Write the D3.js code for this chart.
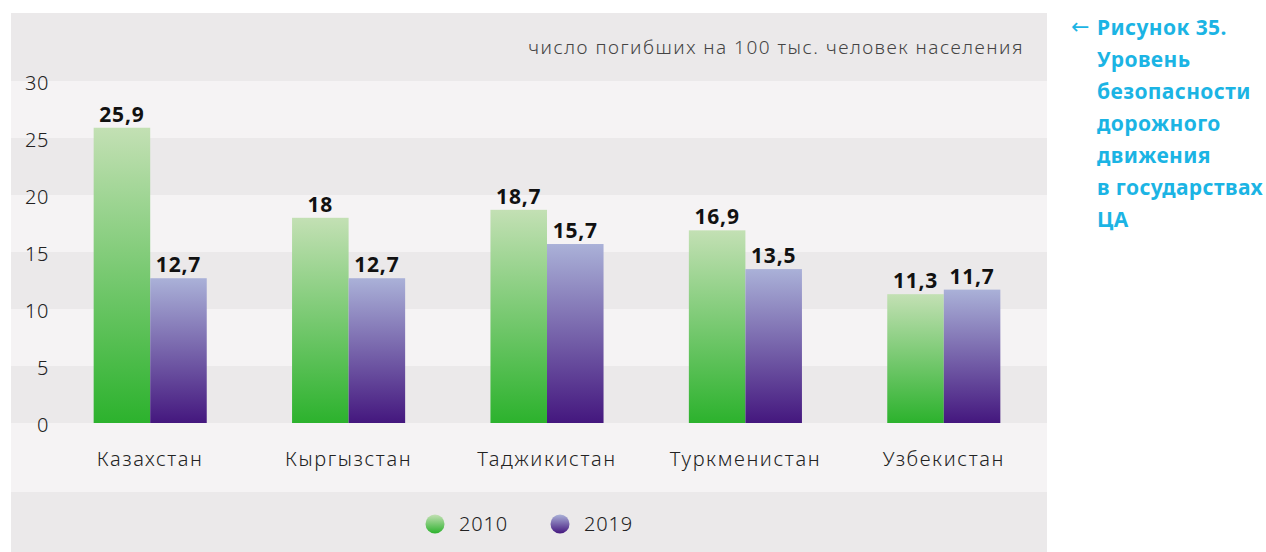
<!DOCTYPE html>
<html>
<head>
<meta charset="utf-8">
<script src="https://cdn.jsdelivr.net/npm/d3@7"></script>
<style>
  html, body { margin: 0; padding: 0; background: #ffffff; }
  svg { display: block; font-family: "Noto Sans", "Open Sans", sans-serif; }
</style>
</head>
<body>
<svg id="chart" width="1266" height="552"></svg>
<script>
// Road traffic deaths per 100k population, Central Asian states
const countries = ["Казахстан", "Кыргызстан", "Таджикистан", "Туркменистан", "Узбекистан"];
const years = ["2010", "2019"];
const values2010 = [25.9, 18, 18.7, 16.9, 11.3];
const values2019 = [12.7, 12.7, 15.7, 13.5, 11.7];
const yTicks = [0, 5, 10, 15, 20, 25, 30];
const unitLabel = "число погибших на 100 тыс. человек населения";
const titleLines = ["Рисунок 35.", "Уровень", "безопасности", "дорожного", "движения", "в государствах", "ЦА"];

const svg = d3.select("#chart");

const panel = { x0: 11, x1: 1047, top: 13, bottom: 552 };
const y = d3.scaleLinear().domain([0, 30]).range([423, 81]);
const x = d3.scaleBand().domain(countries).range([51, 1043]).paddingInner(0.43).paddingOuter(0.215);
const xs = d3.scaleBand().domain(years).range([0, x.bandwidth()]);

const dark = "#ebe9ea", light = "#f5f3f4";
const lightFont = "300";

// Gradients for the two series
const defs = svg.append("defs");
const grads = [
  { id: "g2010", top: "#c3e0b4", bottom: "#2cb22d" },
  { id: "g2019", top: "#aab1d8", bottom: "#44177e" }
];
grads.forEach(g => {
  const lg = defs.append("linearGradient").attr("id", g.id)
    .attr("x1", 0).attr("y1", 0).attr("x2", 0).attr("y2", 1);
  lg.append("stop").attr("offset", "0%").attr("stop-color", g.top);
  lg.append("stop").attr("offset", "100%").attr("stop-color", g.bottom);
});

// Panel background with alternating bands
svg.append("rect").attr("x", panel.x0).attr("y", panel.top)
  .attr("width", panel.x1 - panel.x0).attr("height", panel.bottom - panel.top).attr("fill", dark);
svg.append("rect").attr("x", panel.x0).attr("y", y(0))
  .attr("width", panel.x1 - panel.x0).attr("height", 492 - y(0)).attr("fill", light);
for (let i = 0; i < yTicks.length - 1; i++) {
  const lo = yTicks[i], hi = yTicks[i + 1];
  svg.append("rect").attr("x", panel.x0).attr("y", y(hi))
    .attr("width", panel.x1 - panel.x0).attr("height", y(lo) - y(hi))
    .attr("fill", i % 2 === 0 ? dark : light);
}

// Unit label
svg.append("text").attr("x", 1024).attr("y", 54).attr("text-anchor", "end")
  .attr("font-size", 19).attr("font-weight", lightFont).attr("fill", "#444")
  .attr("letter-spacing", 1.5).text(unitLabel);

// Y axis
const yAxis = d3.axisLeft(y).tickValues(yTicks).tickSize(0).tickPadding(0);
const ya = svg.append("g").attr("transform", "translate(49,1)").call(yAxis);
ya.select(".domain").remove();
ya.selectAll("text").attr("font-size", 20).attr("fill", "#222").attr("font-family", "Noto Sans, sans-serif")
  .attr("font-weight", lightFont).attr("dy", "0.35em").attr("letter-spacing", 0.6);

// Bars
const series = [values2010, values2019];
const groups = svg.append("g").selectAll("g").data(countries).join("g")
  .attr("transform", d => `translate(${x(d)},0)`);
years.forEach((yr, si) => {
  groups.append("rect")
    .attr("x", xs(yr)).attr("width", xs.bandwidth())
    .attr("y", (d, i) => y(series[si][i]))
    .attr("height", (d, i) => y(0) - y(series[si][i]))
    .attr("fill", `url(#g${yr})`);
  groups.append("text")
    .attr("x", xs(yr) + xs.bandwidth() / 2)
    .attr("y", (d, i) => y(series[si][i]) - 6)
    .attr("text-anchor", "middle").attr("font-size", 21).attr("font-weight", 700).attr("fill", "#111")
    .attr("letter-spacing", 0.8)
    .text((d, i) => String(series[si][i]).replace(".", ","));
});

// X axis labels
const xAxis = d3.axisBottom(x).tickSize(0).tickPadding(0);
const xa = svg.append("g").attr("transform", `translate(0,${y(0)})`).call(xAxis);
xa.select(".domain").remove();
xa.selectAll("text").attr("font-size", 20).attr("fill", "#222").attr("font-family", "Noto Sans, sans-serif")
  .attr("font-weight", lightFont).attr("dy", 0).attr("y", 43).attr("letter-spacing", 1.6);

// Legend
const legend = svg.append("g");
const legendX = [435, 560];
years.forEach((yr, i) => {
  legend.append("circle").attr("cx", legendX[i]).attr("cy", 524).attr("r", 9.5).attr("fill", `url(#g${yr})`);
  legend.append("text").attr("x", legendX[i] + 24).attr("y", 531).attr("font-size", 20)
    .attr("font-weight", lightFont).attr("fill", "#222").attr("letter-spacing", 0.8).text(yr);
});

// Figure caption
const cap = svg.append("g").attr("fill", "#1bb4e4").attr("font-weight", 700).attr("font-size", 21)
  .attr("letter-spacing", 0.4);
cap.append("text").attr("x", 1071).attr("y", 34).attr("font-family", "DejaVu Sans, sans-serif")
  .attr("font-weight", 400).attr("font-size", 22).text("←");
titleLines.forEach((t, i) => {
  cap.append("text").attr("x", 1097).attr("y", 35 + i * 32).text(t);
});
</script>
</body>
</html>
